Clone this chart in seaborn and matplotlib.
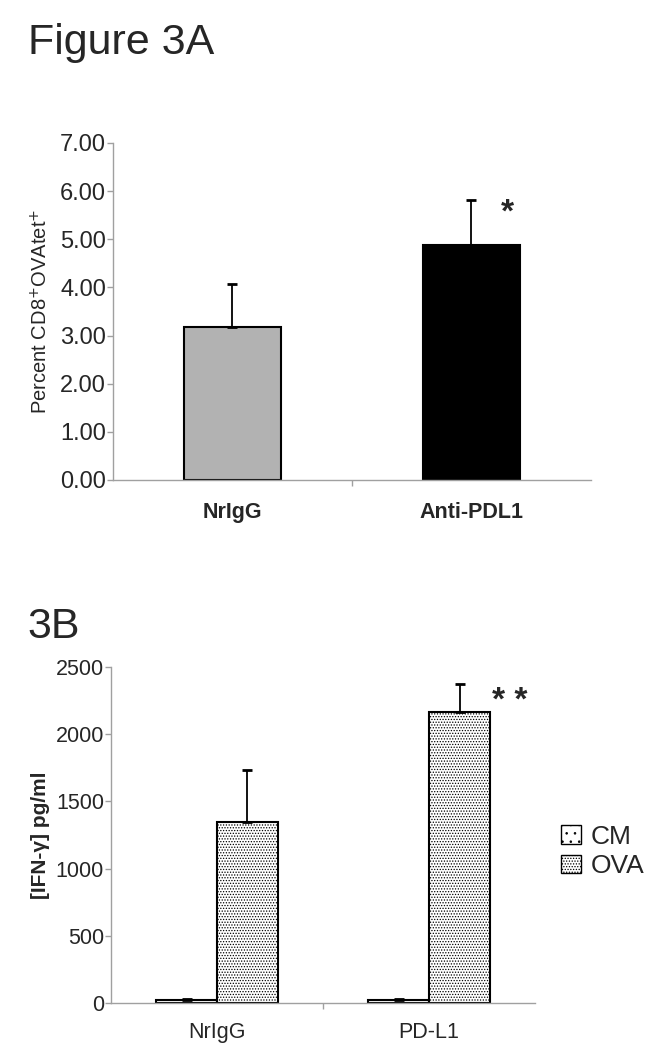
import numpy as np
import pandas as pd
import seaborn as sns
import matplotlib.pyplot as plt
from matplotlib.patches import Patch

# panel A
groups_a = ["NrIgG", "Anti-PDL1"]
means_a = [3.17, 4.87]
errs_a = [0.91, 0.94]
colors_a = ["#b2b2b2", "#000000"]

# panel B
groups_b = ["NrIgG", "PD-L1"]
conds_b = ["CM", "OVA"]
cm_means = [20, 20]
cm_errs = [8, 8]
ova_means = [1349, 2167]
ova_errs = [385, 204]

sns.set_theme(style="white")
plt.rcParams["font.family"] = ["Liberation Sans", "DejaVu Sans"]
plt.rcParams["hatch.linewidth"] = 0.6

fig = plt.figure(figsize=(6.62, 10.5), dpi=100)

def style_axes(ax, ysize, xsize):
    for s in ["top", "right"]:
        ax.spines[s].set_visible(False)
    for s in ["left", "bottom"]:
        ax.spines[s].set_color("#a0a0a0")
        ax.spines[s].set_linewidth(1.0)
    ax.tick_params(axis="y", which="major", left=True, length=4, color="#a0a0a0",
                   width=1.0, labelsize=ysize, pad=1)
    ax.tick_params(axis="x", which="major", bottom=False, labelsize=xsize, pad=10)
    ax.set_xticks([0.5], minor=True)
    ax.tick_params(axis="x", which="minor", bottom=True, length=4, color="#a0a0a0", width=1.0)


# ---- Figure 3A ----
ax1 = fig.add_axes([0.1707, 0.5429, 0.722, 0.321])
df_a = pd.DataFrame({"group": groups_a, "value": means_a})
sns.barplot(data=df_a, x="group", y="value", hue="group", palette=colors_a,
            width=0.405, edgecolor="black", linewidth=1.5, legend=False, ax=ax1)
for p, e in zip(ax1.patches, errs_a):
    cx = p.get_x() + p.get_width() / 2
    ax1.errorbar(cx, p.get_height(), yerr=[[0], [e]], fmt="none", ecolor="black",
                 elinewidth=1.3, capsize=3.5, capthick=2)
ax1.set_xlim(-0.5, 1.5)
ax1.set_ylim(0, 7)
ax1.set_yticks(np.arange(0, 8, 1))
ax1.set_yticklabels([f"{v:.2f}" for v in range(8)])
style_axes(ax1, 17, 15.5)
for lbl in ax1.get_xticklabels():
    lbl.set_fontweight("bold")
ax1.set_xlabel("")
ax1.set_ylabel("Percent CD8$^{+}$OVAtet$^{+}$", fontsize=14.5, labelpad=6)
ax1.text(1.15, 5.55, "*", fontsize=24, fontweight="bold", ha="center", va="center")
fig.text(0.042, 0.959, "Figure 3A", fontsize=31, ha="left", va="center")

# ---- 3B ----
ax2 = fig.add_axes([0.1677, 0.0448, 0.6405, 0.32])
df_b = pd.DataFrame({
    "group": groups_b * 2,
    "cond": [conds_b[0]] * 2 + [conds_b[1]] * 2,
    "value": cm_means + ova_means,
})
sns.barplot(data=df_b, x="group", y="value", hue="cond", hue_order=conds_b,
            palette=["white", "white"], width=0.575, edgecolor="black",
            linewidth=1.5, legend=False, ax=ax2)
hatches = ["....", "....", "......", "......"]
for p, h, e in zip(ax2.patches, hatches, cm_errs + ova_errs):
    p.set_hatch(h)
    cx = p.get_x() + p.get_width() / 2
    ax2.errorbar(cx, p.get_height(), yerr=[[0], [e]], fmt="none", ecolor="black",
                 elinewidth=1.3, capsize=3.5, capthick=2)
ax2.set_xlim(-0.5, 1.5)
ax2.set_ylim(0, 2500)
ax2.set_yticks(np.arange(0, 2501, 500))
style_axes(ax2, 15.5, 15.5)
ax2.tick_params(axis="x", pad=8)
ax2.set_xlabel("")
ax2.set_ylabel("[IFN-\u03b3] pg/ml", fontsize=15, fontweight="bold", labelpad=4)
ax2.text(1.38, 2240, "* *", fontsize=24, fontweight="bold", ha="center", va="center")
fig.text(0.042, 0.403, "3B", fontsize=31, ha="left", va="center")

handles = [Patch(facecolor="white", edgecolor="black", hatch="..", label="CM"),
           Patch(facecolor="white", edgecolor="black", hatch="......", label="OVA")]
fig.legend(handles=handles, loc="upper left", bbox_to_anchor=(0.82, 0.232),
           frameon=False, fontsize=19, handlelength=0.75, handleheight=0.7,
           handletextpad=0.35, labelspacing=0.2, borderpad=0.2)

fig.savefig("out.png", dpi=100)
